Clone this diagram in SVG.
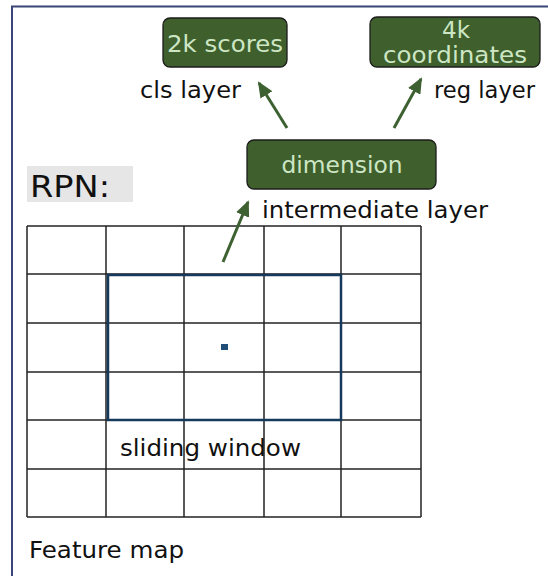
<svg xmlns="http://www.w3.org/2000/svg" width="548" height="576" viewBox="0 0 548 576">
  <style>
    .box { fill: #3f5f2c; stroke: #1c1c1c; stroke-width: 1.3; }
    .boxtxt { font-family: "DejaVu Sans", Verdana, sans-serif; font-size: 23px; fill: #cde6c4; text-anchor: middle; }
    .lbl { font-family: "DejaVu Sans", Verdana, sans-serif; font-size: 23px; fill: #111; }
    .grid line { stroke: #222; stroke-width: 1.5; }
    .arrow { stroke: #3d6131; stroke-width: 3; fill: none; marker-end: url(#head); }
  </style>
  <defs>
    <marker id="head" markerUnits="userSpaceOnUse" markerWidth="16" markerHeight="14" refX="14" refY="7" orient="auto">
      <path d="M0,0 L16,7 L0,14 z" fill="#3d6131"/>
    </marker>
  </defs>

  <rect width="548" height="576" fill="#ffffff"/>

  <!-- outer frame: left and top edges only -->
  <path d="M12,576 V6.5 H548" fill="none" stroke="#3b4577" stroke-width="2"/>

  <!-- RPN title -->
  <g id="rpn-title">
    <rect x="27" y="166" width="106" height="36" fill="#e6e6e6"/>
    <text x="30" y="197" font-family="DejaVu Sans, Verdana, sans-serif" font-size="30" fill="#111" textLength="80" lengthAdjust="spacingAndGlyphs">RPN:</text>
  </g>

  <!-- feature map grid -->
  <g id="feature-map" class="grid">
    <rect x="27" y="226" width="394" height="291" fill="#ffffff" stroke="none"/>
    <line x1="27" y1="226" x2="421" y2="226"/>
    <line x1="27" y1="274" x2="421" y2="274"/>
    <line x1="27" y1="323" x2="421" y2="323"/>
    <line x1="27" y1="372" x2="421" y2="372"/>
    <line x1="27" y1="420" x2="421" y2="420"/>
    <line x1="27" y1="469" x2="421" y2="469"/>
    <line x1="27" y1="517" x2="421" y2="517"/>
    <line x1="27" y1="226" x2="27" y2="517"/>
    <line x1="106" y1="226" x2="106" y2="517"/>
    <line x1="184" y1="226" x2="184" y2="517"/>
    <line x1="264" y1="226" x2="264" y2="517"/>
    <line x1="341" y1="226" x2="341" y2="517"/>
    <line x1="421" y1="226" x2="421" y2="517"/>
  </g>

  <!-- sliding window and its centre -->
  <g id="sliding-window">
    <rect x="108" y="275" width="233" height="145" fill="none" stroke="#163a5c" stroke-width="2.5"/>
    <rect x="221" y="344" width="7" height="6" fill="#1f4e79"/>
    <text class="lbl" x="120" y="456" textLength="181" lengthAdjust="spacingAndGlyphs">sliding window</text>
  </g>

  <g id="feature-map-label">
    <text class="lbl" x="29" y="558" textLength="155" lengthAdjust="spacingAndGlyphs">Feature map</text>
  </g>

  <!-- output and intermediate nodes -->
  <g id="scores">
    <rect class="box" x="163" y="18" width="124" height="49" rx="7"/>
    <text class="boxtxt" x="225" y="52" textLength="116" lengthAdjust="spacingAndGlyphs">2k scores</text>
  </g>

  <g id="coordinates">
    <rect class="box" x="370" y="17" width="170" height="50" rx="7"/>
    <text class="boxtxt" x="456" y="38">4k</text>
    <text class="boxtxt" x="455" y="63" textLength="144" lengthAdjust="spacingAndGlyphs">coordinates</text>
  </g>

  <g id="dimension">
    <rect class="box" x="247" y="140" width="189" height="49" rx="7"/>
    <text class="boxtxt" x="342" y="173" textLength="121" lengthAdjust="spacingAndGlyphs">dimension</text>
  </g>

  <!-- connector labels -->
  <g id="labels">
    <text class="lbl" x="140" y="98" textLength="101" lengthAdjust="spacingAndGlyphs">cls layer</text>
    <text class="lbl" x="434" y="98" textLength="101" lengthAdjust="spacingAndGlyphs">reg layer</text>
    <text class="lbl" x="262" y="218" textLength="226" lengthAdjust="spacingAndGlyphs">intermediate layer</text>
  </g>

  <!-- connectors -->
  <g id="connectors">
    <line class="arrow" x1="287" y1="128" x2="259" y2="83"/>
    <line class="arrow" x1="394" y1="128" x2="421" y2="79"/>
    <line class="arrow" x1="223" y1="262" x2="248" y2="202"/>
  </g>
</svg>
